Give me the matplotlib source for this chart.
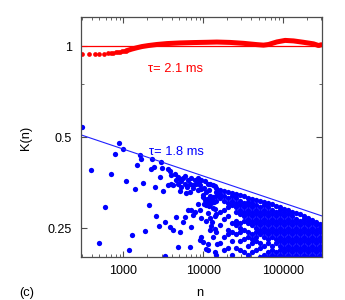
import matplotlib
matplotlib.use('Agg')
import matplotlib.pyplot as plt
from matplotlib.ticker import FixedLocator, FixedFormatter, NullFormatter, LogLocator

plt.rcParams['font.family'] = ['Liberation Sans', 'DejaVu Sans']

# ---------------- data ----------------
x_ticks = [1000, 10000, 100000]
x_ticklabels = ['1000', '10000', '100000']
y_ticks = [0.25, 0.5, 1.0]
y_ticklabels = ['0.25', '0.5', '1']
y_minor = [0.75]

red_label = 'τ= 2.1 ms'
blue_label = 'τ= 1.8 ms'

# reference lines (fits)
red_fit_n = [297, 305000]
red_fit_k = [1.0, 1.0]
blue_fit_n = [297, 305000]
blue_fit_k = [0.5085, 0.2745]

# red series: separated points at small n
red_sparse_n = [300, 370, 435, 500, 570, 635, 695, 750, 805, 860, 910, 970, 1030, 1090]
red_sparse_k = [0.942, 0.940, 0.940, 0.942, 0.944, 0.947, 0.949, 0.952, 0.954, 0.957,
                0.959, 0.962, 0.964, 0.966]
# red series: densely packed points (they merge into a band)
red_dense_n = [1090, 1150, 1270, 1470, 1700, 2060, 2620, 3500, 5100, 7500, 11000, 14800,
               21700, 31900, 46900, 56800, 65600, 83600, 106000, 135000, 180000, 240000,
               278000, 300000]
red_dense_k = [0.966, 0.970, 0.978, 0.988, 0.997, 1.005, 1.013, 1.020, 1.025, 1.028, 1.030,
               1.032, 1.029, 1.022, 1.012, 1.008, 1.013, 1.033, 1.045, 1.041, 1.030, 1.018,
               1.005, 1.011]

# blue series: isolated points
blue_n = [300, 890, 990, 795, 1590, 1680, 2270, 2940, 1485, 2400, 2205, 397, 695, 2880,
          1090, 1780, 2495, 1390, 3120, 595, 2080, 2570, 2780, 1890, 1285, 496, 1190,
          3055, 3633, 3815, 3995, 4408, 4848, 5091, 5600, 5881, 6469, 7114, 7846, 8634,
          9493, 11520, 13310, 3633, 3926, 4197, 4848, 5332, 5881, 6794, 7471, 8217, 9066,
          8634, 9493, 5091, 6160, 6794, 9970, 10470, 11520, 12670, 13980, 10970, 6469,
          7114, 7846, 9066, 7471, 5881, 4616, 5600, 3303, 3815, 4197, 5091, 7114, 12090,
          13980, 13310, 9493, 9066, 9970, 11520, 10970, 14640, 4848, 6794, 11520, 3303,
          13980, 10500, 12200, 14100, 10800, 12200, 13200,
          7500, 8900, 10200, 11900, 12900, 6300, 4500, 5300,
          9800, 10300, 11000, 11800, 12500, 13100, 13700, 12000, 13000, 10800, 9300,
          14000, 12600, 8500, 11300]
blue_k = [0.541, 0.478, 0.456, 0.439, 0.438, 0.423, 0.422, 0.413, 0.405, 0.399, 0.391, 0.390,
          0.377, 0.368, 0.358, 0.354, 0.343, 0.338, 0.331, 0.294, 0.299, 0.274, 0.255, 0.245,
          0.238, 0.224, 0.2115,
          0.394, 0.392, 0.387, 0.374, 0.377, 0.3695, 0.363, 0.365, 0.371, 0.360, 0.365,
          0.362, 0.365, 0.360, 0.351, 0.347, 0.347, 0.351, 0.347, 0.351, 0.342, 0.351,
          0.351, 0.347, 0.351, 0.347, 0.334, 0.338, 0.332, 0.3256, 0.3296, 0.321, 0.309,
          0.305, 0.302, 0.290, 0.298, 0.287, 0.287, 0.283, 0.287, 0.276, 0.272, 0.272,
          0.262, 0.262, 0.252, 0.246, 0.243, 0.252, 0.246, 0.249, 0.234, 0.234, 0.228,
          0.225, 0.222, 0.214, 0.222, 0.2164, 0.2164, 0.211, 0.2016, 0.208, 0.358, 0.350,
          0.3446, 0.329, 0.319, 0.316,
          0.340, 0.356, 0.340, 0.334, 0.312, 0.341, 0.362, 0.357,
          0.318, 0.300, 0.312, 0.295, 0.310, 0.292, 0.305, 0.270, 0.262, 0.265, 0.270,
          0.275, 0.255, 0.300, 0.280]

# blue series: crowded region at large n, one list of K values per n
blue_dense_n = [14500, 16200, 18300, 20500, 23000, 25800, 28900, 32400, 36400, 40800, 45800,
                51400, 57600, 64600, 72500, 81300, 91200, 102000, 115000, 129000, 145000,
                163000, 182000, 205000, 230000, 258000, 289000]
blue_dense_k = [
    [0.3404, 0.3301, 0.3190, 0.3082, 0.2781, 0.2425, 0.2043],
    [0.3352, 0.3245, 0.3136, 0.2829, 0.2553, 0.2226],
    [0.3327, 0.3190, 0.3082, 0.2878, 0.2688, 0.2343, 0.2114],
    [0.3301, 0.3136, 0.3030, 0.2928, 0.2734, 0.2467, 0.2384, 0.2151],
    [0.3276, 0.3190, 0.3082, 0.2979, 0.2597, 0.2425, 0.2264, 0.2043],
    [0.3251, 0.3136, 0.3030, 0.2928, 0.2829, 0.2642, 0.2553, 0.2384, 0.2151],
    [0.3227, 0.3082, 0.2979, 0.2878, 0.2781, 0.2597, 0.2510, 0.2425, 0.2264, 0.2114],
    [0.3202, 0.3030, 0.2928, 0.2829, 0.2734, 0.2642, 0.2467, 0.2304, 0.2079],
    [0.3154, 0.3060, 0.2979, 0.2878, 0.2781, 0.2688, 0.2597, 0.2425, 0.2343, 0.2188, 0.2043],
    [0.3130, 0.3030, 0.2928, 0.2829, 0.2734, 0.2642, 0.2553, 0.2384, 0.2304, 0.2226, 0.2079],
    [0.3106, 0.2979, 0.2878, 0.2781, 0.2688, 0.2597, 0.2510, 0.2425, 0.2343, 0.2264, 0.2114],
    [0.3082, 0.2928, 0.2829, 0.2734, 0.2642, 0.2553, 0.2467, 0.2384, 0.2226, 0.2151, 0.2008],
    [0.3059, 0.2979, 0.2878, 0.2781, 0.2688, 0.2597, 0.2510, 0.2425, 0.2343, 0.2188, 0.2043],
    [0.3036, 0.2928, 0.2829, 0.2734, 0.2642, 0.2553, 0.2467, 0.2384, 0.2304, 0.2226, 0.2079, 0.2008],
    [0.3013, 0.2878, 0.2781, 0.2688, 0.2597, 0.2510, 0.2425, 0.2343, 0.2188, 0.2114, 0.2043],
    [0.2968, 0.2829, 0.2734, 0.2642, 0.2553, 0.2467, 0.2384, 0.2304, 0.2226, 0.2079, 0.2008],
    [0.2945, 0.2878, 0.2781, 0.2688, 0.2597, 0.2510, 0.2425, 0.2343, 0.2264, 0.2188, 0.2114, 0.2043],
    [0.2900, 0.2829, 0.2734, 0.2642, 0.2553, 0.2467, 0.2384, 0.2304, 0.2226, 0.2151, 0.2079, 0.2008],
    [0.2878, 0.2781, 0.2688, 0.2597, 0.2510, 0.2425, 0.2343, 0.2264, 0.2188, 0.2114, 0.2043],
    [0.2835, 0.2734, 0.2642, 0.2553, 0.2467, 0.2384, 0.2304, 0.2226, 0.2151, 0.2079, 0.2008],
    [0.2813, 0.2688, 0.2597, 0.2510, 0.2425, 0.2343, 0.2264, 0.2188, 0.2114, 0.2043],
    [0.2792, 0.2642, 0.2553, 0.2467, 0.2384, 0.2304, 0.2226, 0.2151, 0.2079, 0.2008],
    [0.2750, 0.2688, 0.2597, 0.2510, 0.2425, 0.2343, 0.2264, 0.2188, 0.2114, 0.2043],
    [0.2708, 0.2642, 0.2553, 0.2467, 0.2384, 0.2304, 0.2226, 0.2151, 0.2079, 0.2008],
    [0.2667, 0.2597, 0.2510, 0.2425, 0.2343, 0.2264, 0.2188, 0.2114, 0.2043],
    [0.2627, 0.2553, 0.2467, 0.2384, 0.2304, 0.2226, 0.2151, 0.2079, 0.2008],
    [0.2587, 0.2510, 0.2425, 0.2343, 0.2264, 0.2188, 0.2114, 0.2043],
]

# ---------------- figure ----------------
fig = plt.figure(figsize=(3.45, 3.0), dpi=100)
ax = fig.add_axes([0.2357, 0.1433, 0.6971, 0.8011])
ax.set_xscale('log')
ax.set_yscale('log', base=2)

ms = 3.8
# blue points
ax.plot(blue_n, blue_k, linestyle='none', marker='o', ms=ms, mew=0, color='#0000ff')
for n, ks in zip(blue_dense_n, blue_dense_k):
    ax.plot([n] * len(ks), ks, linestyle='none', marker='o', ms=ms, mew=0, color='#0000ff')

# red points
ax.plot(red_sparse_n, red_sparse_k, linestyle='none', marker='o', ms=3.4, mew=0, color='#ff0000')
ax.plot(red_dense_n, red_dense_k, color='#ff0000', lw=3.6, solid_capstyle='round',
        solid_joinstyle='round')

# fit lines
ax.plot(red_fit_n, red_fit_k, color='#ff0000', lw=0.9)
ax.plot(blue_fit_n, blue_fit_k, color='#2020ff', lw=0.8)

ax.set_xlim(297, 305000)
ax.set_ylim(0.2007, 1.252)

ax.xaxis.set_major_locator(FixedLocator(x_ticks))
ax.xaxis.set_major_formatter(FixedFormatter(x_ticklabels))
ax.xaxis.set_minor_locator(LogLocator(base=10, subs=[2, 3, 4, 5, 6, 7, 8, 9]))
ax.xaxis.set_minor_formatter(NullFormatter())
ax.yaxis.set_major_locator(FixedLocator(y_ticks))
ax.yaxis.set_major_formatter(FixedFormatter(y_ticklabels))
ax.yaxis.set_minor_locator(FixedLocator(y_minor))
ax.yaxis.set_minor_formatter(NullFormatter())

ax.tick_params(which='both', direction='in', top=True, right=True, color='0.3',
               labelsize=9, labelcolor='black')
ax.tick_params(which='major', length=4, width=0.8)
ax.tick_params(which='minor', length=2, width=0.6)
ax.tick_params(axis='x', which='major', pad=5.5)
ax.tick_params(axis='y', which='major', pad=6.8)
for sp in ax.spines.values():
    sp.set_color('0.3')
    sp.set_linewidth(0.9)

ax.text(0.391, 0.782, red_label, transform=ax.transAxes, color='#ff0000',
        fontsize=9.3, ha='center', va='center')
ax.text(0.395, 0.439, blue_label, transform=ax.transAxes, color='#0000ff',
        fontsize=9.3, ha='center', va='center')

fig.text(0.0768, 0.5417, 'K(n)', rotation=90, ha='center', va='center', fontsize=9.3)
fig.text(0.5797, 0.0217, 'n', ha='center', va='center', fontsize=9.3)
fig.text(0.0768, 0.0217, '(c)', ha='center', va='center', fontsize=9.3)

fig.savefig('out.png', dpi=100)
